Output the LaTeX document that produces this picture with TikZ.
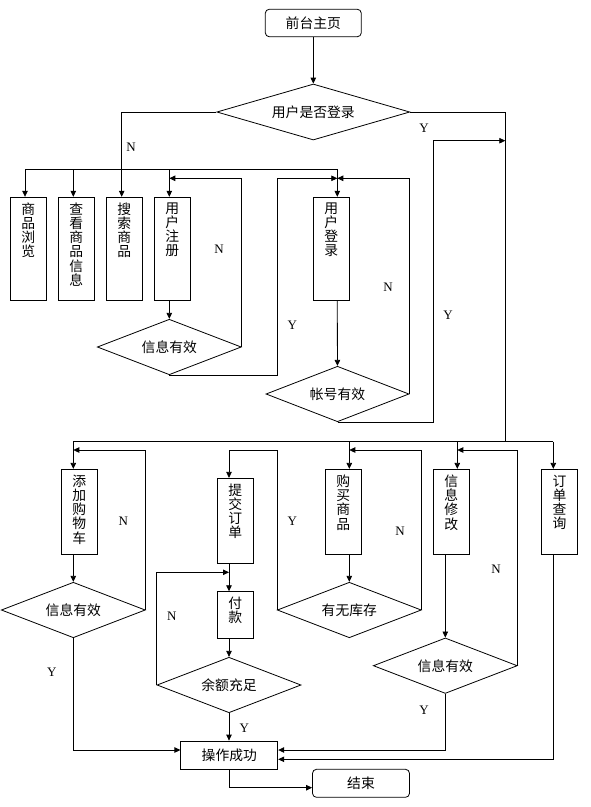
\documentclass[tikz,border=0pt]{standalone}
\usepackage{fontspec}
\setmainfont{Liberation Serif}
\newfontfamily\cjk{Noto Sans CJK SC}
\usepackage{tikz}
\usetikzlibrary{positioning,shapes.geometric,calc}
\usetikzlibrary{arrows.meta}
\tikzstyle{nodeTerm} =[draw, rounded corners=4pt, minimum width=96pt, minimum height=27.5pt, inner sep=0pt, font=\cjk\fontsize{13.8}{14.2}\selectfont]
\tikzstyle{nodeStep} =[draw, minimum width=97pt, minimum height=28pt, inner sep=0pt, font=\cjk\fontsize{13.8}{14.2}\selectfont]
\tikzstyle{nodeCol}  =[draw, minimum width=36pt, inner sep=0pt, font=\cjk\fontsize{13.8}{14.2}\selectfont]
\tikzstyle{nodeAsk}  =[draw, diamond, aspect=2.6, minimum width=144pt, minimum height=55.5pt, inner sep=0pt, font=\cjk\fontsize{13.8}{14.2}\selectfont]
\tikzstyle{nodeYN}   =[inner sep=0pt, font=\fontsize{13}{15}\selectfont]
\tikzstyle{arr}      =[-{Triangle[length=6pt,width=5.5pt]}]
\newcommand{\vtxt}[2]{\parbox[c][#1pt][t]{15pt}{\centering #2}}

\begin{document}
\begin{tikzpicture}[x=1pt, y=-1pt, line width=0.8pt]
      \useasboundingbox (0,0) rectangle (590,807);
      % upper half
      \node[nodeTerm] (home) at (313.3,23) {前台主页};
      \node[nodeAsk, aspect=3.4, minimum width=193pt, minimum height=56pt] (ask) at (313.3,112) {用户是否登录};
      \coordinate (cBrw)  at (25,169.3);
      \coordinate (cView) at (73.3,169.3);
      \coordinate (cFind) at (121.7,169.3);
      \coordinate (cReg)  at (169.3,169.3);
      \coordinate (cLog)  at (337.3,169.3);
      \coordinate (loopT) at (0,178.3);
      \coordinate (yReg)  at (277.3,178.3);
      \coordinate (yLog)  at (433.3,140.7);
      \coordinate (jB)    at (505.3,441.7);
      \node[nodeCol, minimum height=103pt] (brw)   at (28.2,248.7)  {\vtxt{92}{商\\品\\浏\\览}};
      \node[nodeCol, minimum height=103pt] (view)  at (76.3,248.7)  {\vtxt{92}{查\\看\\商\\品\\信\\息}};
      \node[nodeCol, minimum height=103pt] (find)  at (124.3,248.7) {\vtxt{92}{搜\\索\\商\\品}};
      \node[nodeCol, minimum height=103pt] (reg)   at (172.3,248.7) {\vtxt{92}{用\\户\\注\\册}};
      \node[nodeCol, minimum height=103pt] (login) at (331.3,248.7) {\vtxt{92}{用\\户\\登\\录}};
      \node[nodeAsk] (regOk) at (169.3,347) {信息有效};
      \node[nodeAsk, minimum width=143pt] (logOk) at (337.5,394) {帐号有效};

      \draw[arr] (home) -- (ask);
      \draw[arr] (ask.west) -| (cFind |- find.north);
      \draw (cBrw) -- (cLog);
      \foreach \c/\b in {cBrw/brw, cView/view, cReg/reg, cLog/login}
        \draw[arr] (\c) -- (\c |- \b.north);
      \draw[arr] (cReg |- reg.south) -- (regOk);
      \draw[arr] (regOk.east) |- (cReg |- loopT);
      \draw[arr] (regOk.south) -| (yReg) -- (cLog |- loopT);
      \draw[arr] (cLog |- login.south) -- (logOk);
      \draw[arr] (logOk.east) |- (cLog |- loopT);
      \draw (ask.east) -| (jB);
      \draw[arr] (logOk.south) -| (yLog) -- (yLog -| jB);

      \node[nodeYN] (n1) at (131,147) {N};
      \node[nodeYN] (y1) at (424,128) {Y};
      \node[nodeYN] (n2) at (219,249.3) {N};
      \node[nodeYN] (y2) at (292.3,325) {Y};
      \node[nodeYN] (n3) at (388,287.5) {N};
      \node[nodeYN] (y3) at (448,315.5) {Y};

      % lower half
      \coordinate (cCart) at (73.3,441.7);
      \coordinate (cBuy)  at (349.3,441.7);
      \coordinate (cMod)  at (457.3,441.7);
      \coordinate (cQry)  at (553.3,441.7);
      \coordinate (cSub)  at (229,450);
      \coordinate (loopB) at (0,450);
      \coordinate (hPay)  at (0,572.3);
      \coordinate (hA)    at (0,750);
      \coordinate (hB)    at (0,759.3);
      \coordinate (hEnd)  at (0,787.7);
      \node[nodeCol, minimum height=85pt]   (cart)  at (79.3,511.8)  {\vtxt{74}{添\\加\\购\\物\\车}};
      \node[nodeCol, minimum height=85pt]   (sub)   at (235.3,520.8) {\vtxt{74}{提\\交\\订\\单}};
      \node[nodeCol, minimum height=46.6pt] (pay)   at (235.3,615)   {\vtxt{35.6}{付\\款}};
      \node[nodeCol, minimum height=85pt]   (buy)   at (343.3,511.8) {\vtxt{74}{购\\买\\商\\品}};
      \node[nodeCol, minimum height=85pt]   (modi)  at (451.3,511.8) {\vtxt{74}{信\\息\\修\\改}};
      \node[nodeCol, minimum height=85pt]   (query) at (559.5,511.8) {\vtxt{74}{订\\单\\查\\询}};
      \node[nodeAsk] (cartOk) at (73.3,610)    {信息有效};
      \node[nodeAsk] (stock)  at (349.3,610)   {有无库存};
      \node[nodeAsk] (money)  at (229,685)     {余额充足};
      \node[nodeAsk] (modOk)  at (445.3,665.7) {信息有效};
      \node[nodeStep] (done)  at (229.3,755)   {操作成功};
      \node[nodeTerm, minimum width=97pt, minimum height=28pt] (finish) at (361,783.3) {结束};

      \draw (cCart) -- (cQry);
      \foreach \c/\b in {cCart/cart, cBuy/buy, cMod/modi, cQry/query}
        \draw[arr] (\c) -- (\c |- \b.north);
      \draw[arr] (cCart |- cart.south) -- (cartOk);
      \draw[arr] (cartOk.east) |- (cCart |- loopB);
      \draw[arr] (cartOk.south) |- (done.west |- hA);
      \draw[arr] (stock.west) |- (cSub) -- (cSub |- sub.north);
      \draw[arr] (cSub |- sub.south) -- (cSub |- pay.north);
      \draw[arr] (money.west) |- (cSub |- hPay);
      \draw[arr] (cSub |- pay.south) -- (money);
      \draw[arr] (money.south) -- (money.south |- done.north);
      \draw[arr] (done.south) |- (finish.west |- hEnd);
      \draw[arr] (cBuy |- buy.south) -- (stock);
      \draw[arr] (stock.east) |- (cBuy |- loopB);
      \draw[arr] (modOk.north |- modi.south) -- (modOk.north);
      \draw[arr] (modOk.east) |- (cMod |- loopB);
      \draw[arr] (modOk.south) |- (done.east |- hA);
      \draw[arr] (cQry |- query.south) |- (done.east |- hB);

      \node[nodeYN] (n4) at (123.3,521.7) {N};
      \node[nodeYN] (y4) at (292.3,521.7) {Y};
      \node[nodeYN] (n5) at (400,531)     {N};
      \node[nodeYN] (n6) at (496,569.3)   {N};
      \node[nodeYN] (n7) at (171.7,616.7) {N};
      \node[nodeYN] (y5) at (51.7,672.3)  {Y};
      \node[nodeYN] (y6) at (424,710)     {Y};
      \node[nodeYN] (y7) at (244.3,728.3) {Y};
    \end{tikzpicture}
\end{document}
